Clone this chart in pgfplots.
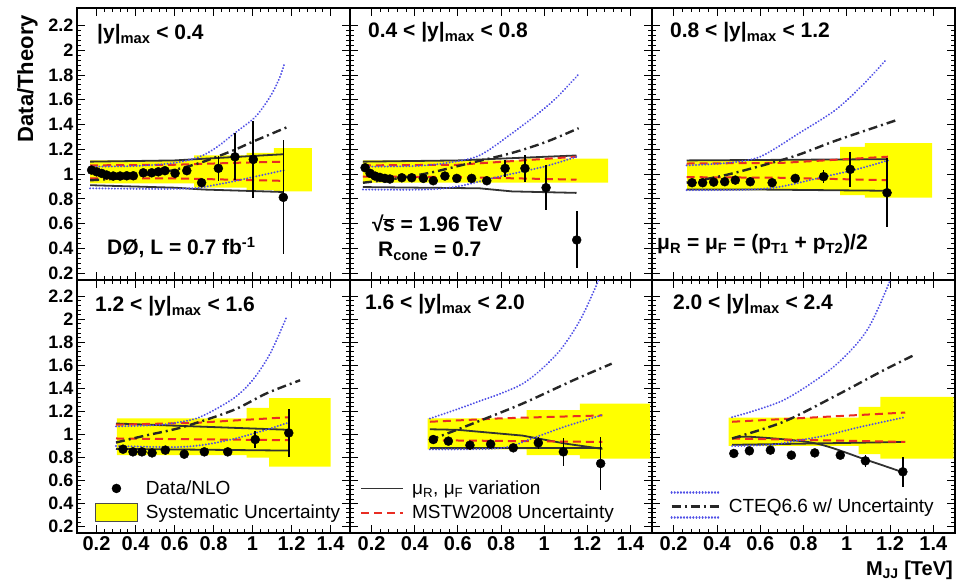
\documentclass[border=0pt]{standalone}
\usepackage{fontspec}
\setmainfont{Liberation Sans}
\usepackage{pgfplots}
\pgfplotsset{compat=1.18}
\definecolor{ybnd}{RGB}{255,255,0}
\definecolor{mred}{RGB}{232,45,35}
\definecolor{cblue}{RGB}{80,80,230}
\definecolor{sgray}{RGB}{50,50,50}
\tikzset{
  solidl/.style={sgray, line width=1.8pt},
  redd/.style={mred, line width=2pt, dash pattern=on 8pt off 5pt},
  blued/.style={cblue, line width=2.1pt, line cap=round, dash pattern=on 0.1pt off 3pt},
  dashdot/.style={black!85, line width=2.4pt, dash pattern=on 9pt off 4pt on 2pt off 4pt},
  band/.style={fill=ybnd, draw=none},
}
\pgfplotsset{
  panel/.style={
    scale only axis, anchor=south west,
    xmin=0.1, xmax=1.5, ymin=0.145, ymax=2.34,
    xtick={0.2,0.4,0.6,0.8,1,1.2,1.4},
    ytick={0.2,0.4,0.6,0.8,1,1.2,1.4,1.6,1.8,2,2.2},
    minor x tick num=4, minor y tick num=4,
    tick align=inside, xtick pos=both, ytick pos=both,
    major tick length=8pt, minor tick length=4pt,
    every tick/.style={black, line width=0.8pt},
    axis line style={line width=1.3pt, black},
    xticklabels={}, yticklabels={},
    /pgf/number format/assume math mode=true,
    xticklabel style={font=\bfseries\fontsize{20}{20}\selectfont},
    yticklabel style={font=\bfseries\fontsize{18}{18}\selectfont},
    legend style={draw=none, fill=none, anchor=north west, font=\fontsize{19}{21}\selectfont, row sep=5pt, inner sep=0pt,
      /tikz/every odd column/.append style={column sep=6pt}},
    legend cell align=left,
  },
  xlab/.style={xticklabels={0.2,0.4,0.6,0.8,1,1.2,1.4}},
  ylab/.style={yticklabels={0.2,0.4,0.6,0.8,1,1.2,1.4,1.6,1.8,2,2.2}},
  datap/.style={black, mark=*, mark size=4.5pt, only marks,
    error bars/.cd, y dir=both, y explicit, error mark=none,
    error bar style={line width=1.6pt, black}},
  leg data/.style={legend image code/.code={\fill[black] (21pt,0pt) circle (4.5pt);}},
  leg band/.style={legend image code/.code={\draw[fill=ybnd, draw=black!70, line width=1pt] (0pt,-9pt) rectangle (42pt,9pt);}},
  leg solid/.style={legend image code/.code={\draw[solidl] (0pt,0pt) -- (42pt,0pt);}},
  leg red/.style={legend image code/.code={\draw[redd] (0pt,0pt) -- (42pt,0pt);}},
  leg cteq/.style={legend image code/.code={\draw[blued] (0pt,14pt) -- (48pt,14pt); \draw[dashdot] (0pt,0pt) -- (48pt,0pt); \draw[blued] (0pt,-11pt) -- (48pt,-11pt);}},
}
\begin{document}
\begin{tikzpicture}
\useasboundingbox (0,0) rectangle (969pt,584pt);

% ---------------- top left: |y|<0.4
\begin{axis}[panel, ylab, at={(77pt,304pt)}, width=273pt, height=272pt]
\addplot[band] coordinates {(0.167,1.11)(0.70,1.11)(0.70,1.15)(0.97,1.15)(0.97,1.17)(1.11,1.17)(1.11,1.21)(1.305,1.21)(1.305,0.86)(1.11,0.86)(1.11,0.87)(0.97,0.87)(0.97,0.89)(0.70,0.89)(0.70,0.925)(0.167,0.925)};
\addplot[solidl] coordinates {(0.167,1.10)(0.6,1.11)(1.16,1.16)};
\addplot[solidl] coordinates {(0.167,0.91)(0.6,0.89)(0.75,0.875)(1.16,0.855)};
\addplot[redd] coordinates {(0.167,1.07)(0.6,1.075)(0.9,1.09)(1.16,1.10)};
\addplot[redd] coordinates {(0.167,0.965)(0.6,0.965)(1.16,0.945)};
\addplot[blued, smooth] coordinates {(0.167,1.06)(0.4,1.065)(0.6,1.09)(0.73,1.14)(0.82,1.22)(0.9,1.32)(1.0,1.44)(1.05,1.53)(1.1,1.65)(1.14,1.78)(1.165,1.9)};
\addplot[blued, smooth] coordinates {(0.167,0.885)(0.5,0.88)(0.7,0.885)(0.8,0.91)(0.9,0.94)(1.0,0.975)(1.16,1.03)};
\addplot[dashdot, smooth] coordinates {(0.167,0.95)(0.35,0.97)(0.56,1.02)(0.73,1.09)(0.9,1.19)(1.0,1.26)(1.18,1.38)};
\addplot[datap] coordinates {
(0.175,1.032) +- (0,0.01) (0.201,1.018) +- (0,0.01) (0.227,1.005) +- (0,0.01)
(0.252,0.992) +- (0,0.01) (0.286,0.984) +- (0,0.01) (0.321,0.984) +- (0,0.01)
(0.355,0.986) +- (0,0.01) (0.389,0.986) +- (0,0.01) (0.440,1.010) +- (0,0.01)
(0.483,1.010) +- (0,0.01) (0.517,1.018) +- (0,0.01) (0.551,1.027) +- (0,0.015)
(0.603,1.006) +- (0,0.02) (0.663,1.027) +- (0,0.03) (0.739,0.930) +- (0,0.03)
(0.825,1.046) +- (0,0.10) (0.910,1.139) +- (0,0.19) (1.004,1.118) +- (0,0.31)
(1.158,0.812) +- (0,0.46)};
\end{axis}

% ---------------- top middle: 0.4-0.8
\begin{axis}[panel, at={(350pt,304pt)}, width=302pt, height=272pt]
\addplot[band] coordinates {(0.16,1.11)(0.90,1.11)(0.90,1.125)(1.296,1.125)(1.296,0.93)(0.16,0.93)};
\addplot[solidl] coordinates {(0.16,1.10)(0.6,1.11)(1.15,1.15)};
\addplot[solidl] coordinates {(0.16,0.895)(0.7,0.885)(0.85,0.86)(1.15,0.848)};
\addplot[redd] coordinates {(0.16,1.07)(0.6,1.075)(0.9,1.11)(1.15,1.14)};
\addplot[redd] coordinates {(0.16,0.98)(0.6,0.975)(1.15,0.955)};
\addplot[blued, smooth] coordinates {(0.16,1.06)(0.4,1.065)(0.55,1.09)(0.70,1.15)(0.86,1.34)(0.98,1.50)(1.06,1.62)(1.157,1.80)};
\addplot[blued, smooth] coordinates {(0.16,0.875)(0.45,0.875)(0.6,0.9)(0.78,0.975)(1.0,1.06)(1.15,1.14)};
\addplot[dashdot, smooth] coordinates {(0.16,0.93)(0.3,0.96)(0.47,1.01)(0.66,1.09)(0.85,1.17)(1.01,1.26)(1.16,1.37)};
\addplot[datap] coordinates {
(0.170,1.051) +- (0,0.01) (0.193,1.006) +- (0,0.01) (0.216,0.984) +- (0,0.01)
(0.239,0.973) +- (0,0.01) (0.262,0.965) +- (0,0.01) (0.285,0.960) +- (0,0.01)
(0.340,0.970) +- (0,0.01) (0.386,0.970) +- (0,0.01) (0.440,0.965) +- (0,0.01)
(0.486,0.946) +- (0,0.01) (0.540,0.984) +- (0,0.015) (0.595,0.965) +- (0,0.02)
(0.664,0.965) +- (0,0.02) (0.734,0.946) +- (0,0.03) (0.819,1.046) +- (0,0.07)
(0.911,1.046) +- (0,0.11) (1.009,0.890) +- (0,0.18) (1.151,0.468) +- (0,0.23)};
\end{axis}

% ---------------- top right: 0.8-1.2
\begin{axis}[panel, at={(652pt,304pt)}, width=303pt, height=272pt]
\addplot[band] coordinates {(0.262,1.112)(0.969,1.112)(0.969,1.22)(1.084,1.22)(1.084,1.25)(1.394,1.25)(1.394,0.81)(1.084,0.81)(1.084,0.83)(0.969,0.83)(0.969,0.87)(0.262,0.87)};
\addplot[solidl] coordinates {(0.26,1.11)(1.19,1.12)};
\addplot[solidl] coordinates {(0.26,0.875)(0.6,0.875)(1.19,0.865)};
\addplot[redd] coordinates {(0.26,1.085)(0.7,1.09)(1.19,1.14)};
\addplot[redd] coordinates {(0.26,0.975)(0.7,0.97)(1.19,0.95)};
\addplot[blued, smooth] coordinates {(0.26,1.07)(0.45,1.09)(0.6,1.14)(0.78,1.33)(0.95,1.52)(1.08,1.73)(1.18,1.92)};
\addplot[blued, smooth] coordinates {(0.26,0.87)(0.55,0.875)(0.7,0.9)(0.9,0.98)(1.05,1.04)(1.19,1.11)};
\addplot[dashdot, smooth] coordinates {(0.26,0.93)(0.46,1.0)(0.75,1.14)(0.95,1.27)(1.23,1.435)};
\addplot[datap] coordinates {
(0.285,0.930) +- (0,0.01) (0.334,0.930) +- (0,0.01) (0.385,0.935) +- (0,0.01)
(0.436,0.938) +- (0,0.01) (0.485,0.951) +- (0,0.01) (0.554,0.938) +- (0,0.01)
(0.655,0.930) +- (0,0.015) (0.762,0.965) +- (0,0.025) (0.893,0.979) +- (0,0.05)
(1.016,1.038) +- (0,0.14) (1.186,0.849) +- (0,0.28)};
\end{axis}

% ---------------- bottom left: 1.2-1.6
\begin{axis}[panel, xlab, ylab, at={(77pt,51pt)}, width=273pt, height=253pt,
  legend style={at={(0.065,0.215)}}]
\addlegendimage{leg data}
\addlegendentry{Data/NLO}
\addlegendimage{leg band}
\addlegendentry{Systematic Uncertainty}
\addplot[band] coordinates {(0.305,1.14)(0.97,1.14)(0.97,1.23)(1.085,1.23)(1.085,1.315)(1.40,1.315)(1.40,0.72)(1.085,0.72)(1.085,0.80)(0.97,0.80)(0.97,0.82)(0.305,0.82)};
\addplot[solidl] coordinates {(0.3,1.095)(0.7,1.07)(1.19,1.04)};
\addplot[solidl] coordinates {(0.3,0.875)(1.19,0.86)};
\addplot[redd] coordinates {(0.3,1.085)(0.7,1.10)(1.19,1.15)};
\addplot[redd] coordinates {(0.3,0.965)(1.19,0.95)};
\addplot[blued, smooth] coordinates {(0.3,1.07)(0.5,1.08)(0.6,1.1)(0.73,1.15)(0.9,1.31)(1.0,1.47)(1.09,1.70)(1.175,2.02)};
\addplot[blued, smooth] coordinates {(0.3,0.9)(0.6,0.89)(0.75,0.91)(0.9,0.96)(1.05,1.03)(1.18,1.10)};
\addplot[dashdot, smooth] coordinates {(0.3,0.93)(0.45,0.99)(0.645,1.065)(0.9,1.21)(1.07,1.355)(1.244,1.47)};
\addplot[datap] coordinates {
(0.336,0.872) +- (0,0.01) (0.387,0.849) +- (0,0.01) (0.433,0.849) +- (0,0.01)
(0.485,0.840) +- (0,0.01) (0.553,0.864) +- (0,0.01) (0.650,0.829) +- (0,0.015)
(0.753,0.849) +- (0,0.02) (0.873,0.849) +- (0,0.03) (1.014,0.956) +- (0,0.07)
(1.186,1.013) +- (0,0.21)};
\end{axis}

% ---------------- bottom middle: 1.6-2.0
\begin{axis}[panel, xlab, at={(350pt,51pt)}, width=302pt, height=253pt,
  legend style={at={(0.033,0.215)}}]
\addlegendimage{leg solid}
\addlegendentry{μ\textsubscript{R}, μ\textsubscript{F} variation}
\addlegendimage{leg red}
\addlegendentry{MSTW2008 Uncertainty}
\addplot[band] coordinates {(0.46,1.14)(0.919,1.14)(0.919,1.21)(1.166,1.21)(1.166,1.268)(1.49,1.268)(1.49,0.79)(1.166,0.79)(1.166,0.82)(0.919,0.82)(0.919,0.87)(0.46,0.87)};
\addplot[solidl] coordinates {(0.47,1.045)(0.6,1.04)(0.9,0.99)(1.1,0.92)(1.27,0.875)};
\addplot[solidl] coordinates {(0.47,0.88)(1.27,0.88)};
\addplot[redd] coordinates {(0.47,1.11)(0.8,1.14)(1.27,1.165)};
\addplot[redd] coordinates {(0.47,0.95)(1.27,0.935)};
\addplot[blued, smooth] coordinates {(0.47,1.138)(0.67,1.268)(0.9,1.44)(1.06,1.70)(1.166,1.99)(1.25,2.33)(1.28,2.5)};
\addplot[blued, smooth] coordinates {(0.47,0.87)(0.75,0.875)(0.85,0.9)(0.95,0.97)(1.1,1.07)(1.27,1.17)};
\addplot[dashdot, smooth] coordinates {(0.47,0.95)(0.67,1.095)(0.9,1.268)(1.135,1.47)(1.313,1.614)};
\addplot[datap] coordinates {
(0.486,0.956) +- (0,0.01) (0.556,0.942) +- (0,0.01) (0.656,0.907) +- (0,0.01)
(0.752,0.916) +- (0,0.015) (0.857,0.884) +- (0,0.02) (0.973,0.927) +- (0,0.05)
(1.089,0.849) +- (0,0.12) (1.262,0.748) +- (0,0.23)};
\end{axis}

% ---------------- bottom right: 2.0-2.4
\begin{axis}[panel, xlab, at={(652pt,51pt)}, width=303pt, height=253pt,
  legend style={at={(0.06,0.165)}}]
\addlegendimage{leg cteq}
\addlegendentry{CTEQ6.6 w/ Uncertainty}
\addplot[band] coordinates {(0.454,1.145)(1.055,1.145)(1.055,1.24)(1.155,1.24)(1.155,1.325)(1.494,1.325)(1.494,0.79)(1.155,0.79)(1.155,0.83)(1.055,0.83)(1.055,0.90)(0.454,0.90)};
\addplot[solidl] coordinates {(0.47,0.91)(1.27,0.935)};
\addplot[solidl, smooth] coordinates {(0.47,0.965)(0.55,0.98)(0.85,0.925)(1.09,0.78)(1.27,0.665)};
\addplot[redd] coordinates {(0.47,1.11)(1.27,1.19)};
\addplot[redd] coordinates {(0.47,0.965)(1.27,0.935)};
\addplot[blued, smooth] coordinates {(0.47,1.15)(0.707,1.297)(0.938,1.585)(1.092,1.90)(1.2,2.335)(1.25,2.6)};
\addplot[blued, smooth] coordinates {(0.47,0.90)(0.65,0.91)(0.75,0.94)(0.9,0.99)(1.05,1.06)(1.27,1.15)};
\addplot[dashdot, smooth] coordinates {(0.47,0.965)(0.707,1.109)(0.938,1.325)(1.169,1.556)(1.308,1.686)};
\addplot[datap] coordinates {
(0.478,0.835) +- (0,0.01) (0.550,0.858) +- (0,0.01) (0.647,0.864) +- (0,0.01)
(0.744,0.820) +- (0,0.015) (0.852,0.840) +- (0,0.02) (0.970,0.820) +- (0,0.03)
(1.086,0.771) +- (0,0.05) (1.259,0.676) +- (0,0.13)};
\end{axis}

% ---------------- text
\begin{scope}[every node/.style={inner sep=0pt, font=\bfseries\fontsize{21}{21}\selectfont}]
\node[anchor=base west] at (97pt,544pt) {|y|\textsubscript{max} < 0.4};
\node[anchor=base west] at (368pt,546pt) {0.4 < |y|\textsubscript{max} < 0.8};
\node[anchor=base west] at (670pt,546pt) {0.8 < |y|\textsubscript{max} < 1.2};
\node[anchor=base west] at (95pt,272pt) {1.2 < |y|\textsubscript{max} < 1.6};
\node[anchor=base west] at (365pt,274pt) {1.6 < |y|\textsubscript{max} < 2.0};
\node[anchor=base west] at (673pt,274pt) {2.0 < |y|\textsubscript{max} < 2.4};
\node[anchor=base west] at (107pt,329pt) {DØ, L = 0.7 fb\textsuperscript{-1}};
\node[anchor=base west] at (372pt,352pt) {√\kern-0.5pt$\overline{\mbox{s}}$ = 1.96 TeV};
\node[anchor=base west] at (378pt,327pt) {R\textsubscript{cone} = 0.7};
\node[anchor=base west] at (657pt,334pt) {μ\textsubscript{R} = μ\textsubscript{F} = (p\textsubscript{T1} + p\textsubscript{T2})/2};
\end{scope}
\node[rotate=90, anchor=base east, inner sep=0pt, font=\bfseries\fontsize{22}{22}\selectfont] at (33pt,569pt) {Data/Theory};
\node[anchor=base east, inner sep=0pt, font=\bfseries\fontsize{20}{20}\selectfont] at (953pt,9pt) {M\textsubscript{JJ} [TeV]};
\end{tikzpicture}
\end{document}
